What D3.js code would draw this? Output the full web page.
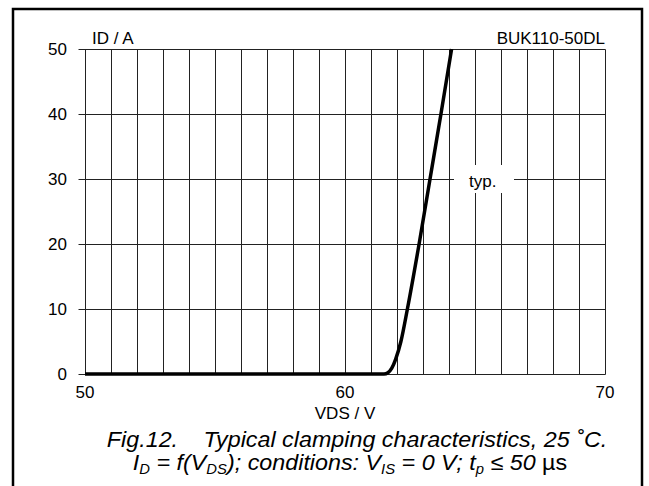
<!DOCTYPE html>
<html>
<head>
<meta charset="utf-8">
<script src="https://cdn.jsdelivr.net/npm/d3@7"></script>
<style>
  body { margin: 0; background: #fff; }
  svg text { font-family: "Liberation Sans", Arial, sans-serif; fill: #000; }
</style>
</head>
<body>
<svg id="chart" width="649" height="486"></svg>
<script>
// clamping curve
var vds = [50, 61.5, 61.65, 61.8, 61.95, 62.15, 62.4, 62.85, 63.27, 63.69, 64.1];
var id  = [0,  0,    0.2,   0.9,  2.3,   5,     10,   20,    30,    40,    50];
var xTicks = [50, 60, 70];
var yTicks = [0, 10, 20, 30, 40, 50];

var svg = d3.select('#chart');

// outer frame (bottom runs off the page)
svg.append('rect')
    .attr('x', 13).attr('y', 9)
    .attr('width', 629).attr('height', 500)
    .attr('fill', 'none').attr('stroke', '#000').attr('stroke-width', 2.5);

var x = d3.scaleLinear().domain([50, 70]).range([85, 605]);
var y = d3.scaleLinear().domain([0, 50]).range([374, 49]);

var grid = svg.append('g')
    .attr('stroke', '#222').attr('stroke-width', 1)
    .attr('transform', 'translate(0.5,0.5)');

// vertical lines every 1 V
grid.selectAll('line.v')
    .data(d3.range(50, 71))
  .enter().append('line')
    .attr('x1', function(d) { return x(d); })
    .attr('x2', function(d) { return x(d); })
    .attr('y1', y(0)).attr('y2', y(50));

// horizontal lines every 10 A, with a short tick on the left
grid.selectAll('line.h')
    .data(yTicks)
  .enter().append('line')
    .attr('x1', x(50) - 7).attr('x2', x(70))
    .attr('y1', function(d) { return y(d); })
    .attr('y2', function(d) { return y(d); });

// tick labels
svg.selectAll('text.yt')
    .data(yTicks)
  .enter().append('text')
    .attr('x', 67).attr('y', function(d) { return y(d) + 6; })
    .attr('text-anchor', 'end').attr('font-size', 17)
    .text(function(d) { return d; });

svg.selectAll('text.xt')
    .data(xTicks)
  .enter().append('text')
    .attr('x', function(d) { return x(d); }).attr('y', 398)
    .attr('text-anchor', 'middle').attr('font-size', 17)
    .text(function(d) { return d; });

svg.append('text').attr('x', 92).attr('y', 44).attr('font-size', 17).text('ID / A');
svg.append('text').attr('x', 605).attr('y', 44).attr('text-anchor', 'end')
    .attr('font-size', 17).text('BUK110-50DL');
svg.append('text').attr('x', 345).attr('y', 419).attr('text-anchor', 'middle')
    .attr('font-size', 17).text('VDS / V');

// curve
var line = d3.line()
    .x(function(d) { return x(d[0]); })
    .y(function(d) { return y(d[1]); })
    .curve(d3.curveMonotoneX);

svg.append('path')
    .datum(d3.zip(vds, id))
    .attr('d', line)
    .attr('fill', 'none').attr('stroke', '#000').attr('stroke-width', 3.5)
    .attr('stroke-linejoin', 'round');

// "typ." label knocks out the grid
svg.append('rect').attr('x', 454).attr('y', 165).attr('width', 60).attr('height', 28)
    .attr('fill', '#fff');
svg.append('text').attr('x', 469).attr('y', 187).attr('font-size', 17).text('typ.');

// caption, slightly wide like the original
var cap = svg.append('g').attr('font-size', 22).attr('font-style', 'italic');

var cap1 = cap.append('g').attr('transform', 'translate(357,447) scale(1.06,1)')
  .append('text').attr('text-anchor', 'middle');
cap1.append('tspan').text('Fig.12.');
cap1.append('tspan').attr('dx', 24).text('Typical clamping characteristics, 25 ˚C.');

var cap2 = cap.append('g').attr('transform', 'translate(350,470) scale(1.06,1)')
  .append('text').attr('text-anchor', 'middle');
cap2.append('tspan').text('I');
cap2.append('tspan').attr('font-size', 14).attr('dy', 4).text('D');
cap2.append('tspan').attr('dy', -4).text(' = f(V');
cap2.append('tspan').attr('font-size', 14).attr('dy', 4).text('DS');
cap2.append('tspan').attr('dy', -4).text('); conditions: V');
cap2.append('tspan').attr('font-size', 14).attr('dy', 4).text('IS');
cap2.append('tspan').attr('dy', -4).text(' = 0 V; t');
cap2.append('tspan').attr('font-size', 14).attr('dy', 4).text('p');
cap2.append('tspan').attr('dy', -4).text(' ≤ 50 ');
cap2.append('tspan').attr('font-style', 'normal').text('µs');
</script>
</body>
</html>
